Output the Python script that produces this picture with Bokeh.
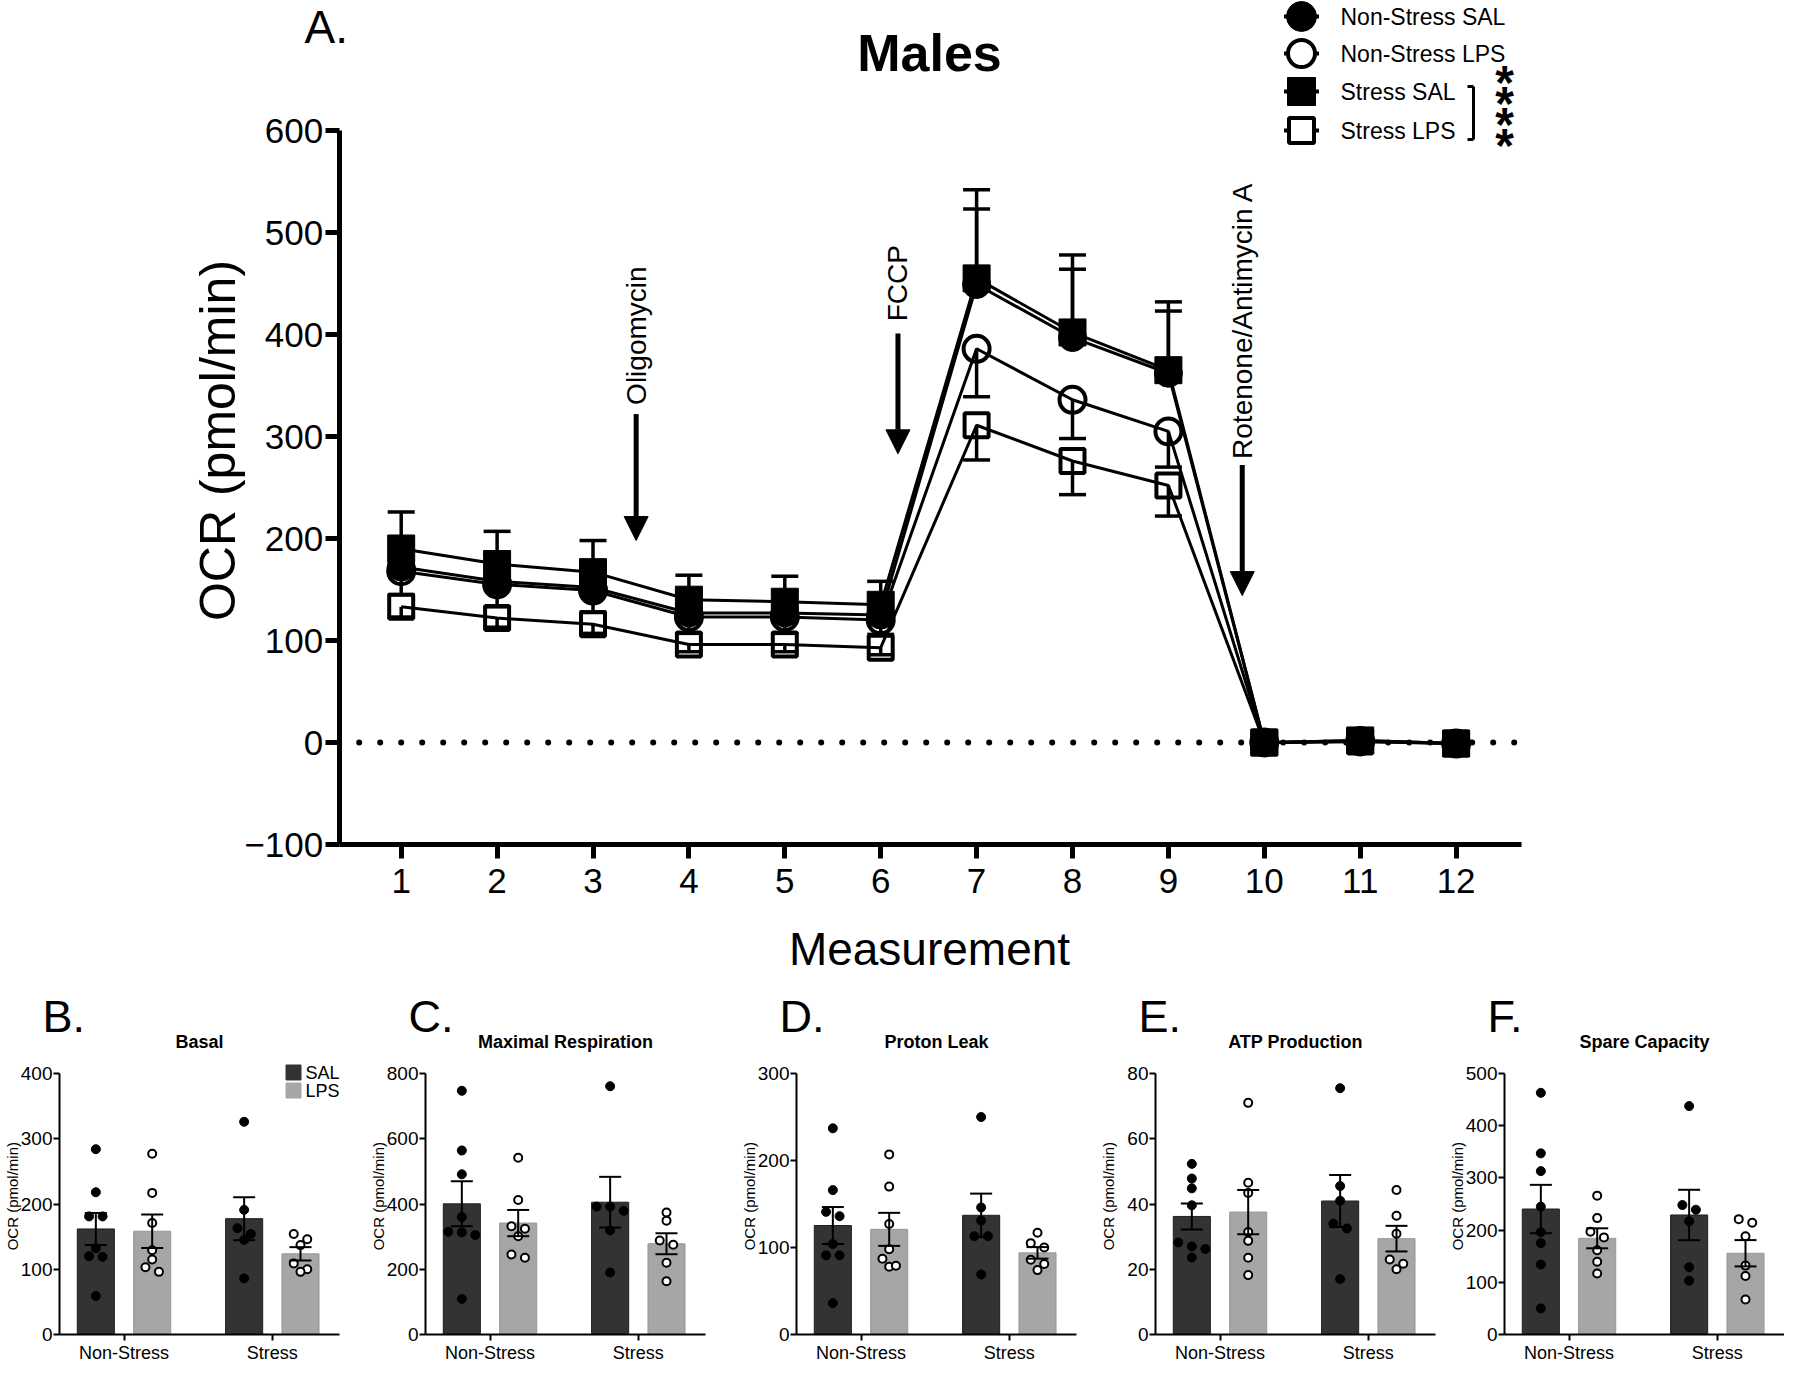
import math
from bokeh.plotting import figure
from bokeh.models import Range1d, FixedTicker, Label, Arrow, NormalHead
from bokeh.layouts import column, row
from bokeh.embed import file_html
from bokeh.resources import INLINE

FONT = "Liberation Sans"

# ------------------------------------------------------------------ data (A)
measurements = [1, 2, 3, 4, 5, 6, 7, 8, 9, 10, 11, 12]
ns_sal_mean = [172, 158, 152, 127, 127, 125, 449, 397, 362, 0, 2, -1]
ns_sal_sem = [30, 27, 26, 20, 20, 19, 74, 67, 61, 2, 2, 2]
ns_lps_mean = [168, 155, 149, 123, 123, 120, 386, 336, 305, 0, 1, -1]
ns_lps_sem = [23, 22, 21, 16, 16, 14, 47, 38, 35, 2, 2, 2]
s_sal_mean = [190, 175, 167, 140, 138, 135, 455, 402, 365, 0, 2, -1]
s_sal_sem = [36, 32, 31, 24, 25, 23, 87, 76, 67, 2, 2, 2]
s_lps_mean = [133, 122, 116, 96, 96, 93, 311, 276, 252, 0, 1, -1]
s_lps_sem = [10, 9, 9, 7, 7, 7, 34, 33, 30, 2, 2, 2]
series_names = ["Non-Stress SAL", "Non-Stress LPS", "Stress SAL", "Stress LPS"]

drug_names = ["Oligomycin", "FCCP", "Rotenone/Antimycin A"]
drug_x = [3.45, 6.18, 9.77]
drug_arrow_top = [322, 401, 272]
drug_arrow_tip = [198, 283, 144]
drug_text_start = [331, 413, 278]

y_ticks_a = [-100, 0, 100, 200, 300, 400, 500, 600]

# ------------------------------------------------------------------ data (B-F)
groups = ["Non-Stress", "Stress"]
treatments = ["SAL", "LPS"]
panel_letters = ["B.", "C.", "D.", "E.", "F."]
panel_titles = ["Basal", "Maximal Respiration", "Proton Leak", "ATP Production", "Spare Capacity"]
panel_ymax = [400, 800, 300, 80, 500]
panel_ystep = [100, 200, 100, 20, 100]

basal_ns_sal = [284, 218, 181, 181, 132, 120, 119, 59]
basal_ns_lps = [277, 217, 171, 129, 115, 103, 96]
basal_s_sal = [326, 191, 163, 154, 145, 86]
basal_s_lps = [154, 146, 137, 109, 100, 96]

maxresp_ns_sal = [747, 564, 491, 360, 315, 305, 313, 109]
maxresp_ns_lps = [542, 412, 332, 324, 301, 235, 245]
maxresp_s_sal = [761, 392, 392, 379, 319, 190]
maxresp_s_lps = [374, 349, 288, 275, 220, 163]

leak_ns_sal = [237, 166, 141, 136, 104, 91, 91, 36]
leak_ns_lps = [207, 170, 127, 98, 87, 78, 79]
leak_s_sal = [250, 146, 131, 113, 113, 69]
leak_s_lps = [117, 105, 100, 86, 81, 74]

atp_ns_sal = [52.3, 47.8, 44.8, 39.6, 28.2, 27.0, 26.2, 23.6]
atp_ns_lps = [71.0, 46.5, 43.4, 31.4, 28.7, 23.5, 18.2]
atp_s_sal = [75.5, 45.5, 41.0, 34.0, 32.5, 17.0]
atp_s_lps = [44.3, 36.4, 30.9, 23.0, 21.7, 20.0]

spare_ns_sal = [463, 347, 313, 245, 196, 175, 134, 50]
spare_ns_lps = [266, 223, 197, 186, 161.5, 139.5, 117]
spare_s_sal = [437.6, 248, 239, 217, 129, 103]
spare_s_lps = [221, 214, 188, 132, 112, 67]

panel_data = [
    [basal_ns_sal, basal_ns_lps, basal_s_sal, basal_s_lps],
    [maxresp_ns_sal, maxresp_ns_lps, maxresp_s_sal, maxresp_s_lps],
    [leak_ns_sal, leak_ns_lps, leak_s_sal, leak_s_lps],
    [atp_ns_sal, atp_ns_lps, atp_s_sal, atp_s_lps],
    [spare_ns_sal, spare_ns_lps, spare_s_sal, spare_s_lps],
]

# ------------------------------------------------------------------ layout constants (page px)
PAGE_W = 1784
H_MAIN = 980
H_PANEL = 384
DARK = "#333333"
LIGHT = "#a6a6a6"

# main chart: whole figure is the frame; axes are fixed inside it
M1_PX = 400.7          # page x of measurement 1
PX = 95.9              # px per measurement
ZERO_PY = 742.0        # page y of OCR 0
PY = 1.02              # px per OCR unit
AX_LEFT_PX, AX_RIGHT_PX = 338.7, 1521.0


def xv(px):
    return 1 + (px - M1_PX) / PX


def yv(py):
    return (ZERO_PY - py) / PY


X_AX0, X_AX1 = xv(AX_LEFT_PX), xv(AX_RIGHT_PX)
Y_AX0, Y_AX1 = -100, 600

p = figure(width=PAGE_W, height=H_MAIN, x_range=Range1d(xv(0), xv(PAGE_W)),
           y_range=Range1d(yv(H_MAIN), yv(0)), output_backend="svg", toolbar_location=None,
           min_border_left=0, min_border_right=0, min_border_top=0, min_border_bottom=0)
p.outline_line_color = None
p.xgrid.visible = False
p.ygrid.visible = False
p.background_fill_color = "white"
p.border_fill_color = "white"

for ax in (p.xaxis[0], p.yaxis[0]):
    ax.axis_line_width = 5
    ax.axis_line_color = "black"
    ax.major_tick_line_width = 5
    ax.major_tick_line_color = "black"
    ax.major_tick_out = 14
    ax.major_tick_in = 0
    ax.minor_tick_line_color = None
    ax.major_label_text_font = FONT
    ax.major_label_text_font_size = "35px"
    ax.major_label_text_color = "black"

p.yaxis.fixed_location = X_AX0
p.yaxis.bounds = (Y_AX0, Y_AX1)
p.yaxis.ticker = FixedTicker(ticks=y_ticks_a)
p.yaxis.major_label_standoff = 2
p.xaxis.fixed_location = Y_AX0
p.xaxis.bounds = (X_AX0, X_AX1)
p.xaxis.ticker = FixedTicker(ticks=measurements)
p.xaxis.major_label_standoff = 10

# dotted zero line across the axis span
p.line(x=[X_AX0 + 20 / PX, X_AX1], y=[0, 0], line_color="black", line_width=6,
       line_dash="0 21", line_cap="round")

means = [ns_sal_mean, ns_lps_mean, s_sal_mean, s_lps_mean]
sems = [ns_sal_sem, ns_lps_sem, s_sal_sem, s_lps_sem]
markers = ["circle", "circle", "square", "square"]
filled = [True, False, True, False]
CAP = 13.5 / PX

# error bars (up for SAL, down for LPS)
for mean, sem, fill in zip(means, sems, filled):
    if fill:
        lo = list(mean)
        hi = [m + s for m, s in zip(mean, sem)]
        cap = hi
    else:
        lo = [m - s for m, s in zip(mean, sem)]
        hi = list(mean)
        cap = lo
    p.segment(x0=measurements, y0=lo, x1=measurements, y1=hi, line_color="black", line_width=3.5)
    p.segment(x0=[m - CAP for m in measurements], y0=cap,
              x1=[m + CAP for m in measurements], y1=cap, line_color="black", line_width=3.5)

for mean, mk, fill in zip(means, markers, filled):
    if fill:
        p.scatter(measurements, mean, marker=mk, size=28 if mk == "circle" else 27,
                  fill_color="black", line_color="black", line_width=1)
    p.line(measurements, mean, line_color="black", line_width=3)
    if not fill:
        p.scatter(measurements, mean, marker=mk, size=26 if mk == "circle" else 24,
                  fill_alpha=0, line_color="black", line_width=4)

# drug arrows + labels
for name, dx, top, tip, ts in zip(drug_names, drug_x, drug_arrow_top, drug_arrow_tip, drug_text_start):
    p.add_layout(Arrow(x_start=dx, y_start=top, x_end=dx, y_end=tip, line_width=5,
                       line_color="black",
                       end=NormalHead(size=24, fill_color="black", line_color="black", line_width=1)))
    p.add_layout(Label(x=dx, y=ts, text=name, angle=math.pi / 2, text_align="left",
                       text_baseline="middle", text_font=FONT, text_font_size="28px",
                       text_color="black"))

# axis titles, chart title, panel letter
p.add_layout(Label(x=xv(217), y=yv(440), text="OCR (pmol/min)", angle=math.pi / 2,
                   text_align="center", text_baseline="middle", text_font=FONT,
                   text_font_size="50px", text_color="black"))
p.add_layout(Label(x=xv(929), y=yv(948), text="Measurement", text_align="center",
                   text_baseline="middle", text_font=FONT, text_font_size="46px",
                   text_color="black"))
p.add_layout(Label(x=xv(929), y=yv(52), text="Males", text_align="center",
                   text_baseline="middle", text_font=FONT, text_font_size="52px",
                   text_font_style="bold", text_color="black"))
p.add_layout(Label(x=xv(304), y=yv(26), text="A.", text_align="left",
                   text_baseline="middle", text_font=FONT, text_font_size="46px",
                   text_color="black"))

# legend (top right)
LEG_ROWS = [16, 53, 91, 130]
LEG_MX = xv(1301)
LEG_HALF = 17.5 / PX
for name, mk, fill, ry in zip(series_names, markers, filled, LEG_ROWS):
    y = yv(ry)
    p.segment(x0=[LEG_MX - LEG_HALF], y0=[y], x1=[LEG_MX + LEG_HALF], y1=[y],
              line_color="black", line_width=4)
    if fill:
        p.scatter([LEG_MX], [y], marker=mk, size=30 if mk == "circle" else 28,
                  fill_color="black", line_color="black", line_width=1)
    else:
        p.scatter([LEG_MX], [y], marker=mk, size=27 if mk == "circle" else 25,
                  fill_color="white", line_color="black", line_width=4)
    p.add_layout(Label(x=xv(1340), y=y, text=name, text_align="left", text_baseline="middle",
                       text_font=FONT, text_font_size="23px", text_color="black"))

# significance bracket + asterisks
BX = xv(1473)
bt, bb = yv(86), yv(139)
p.segment(x0=[BX, BX - 6 / PX, BX - 6 / PX], y0=[bt, bt, bb],
          x1=[BX, BX, BX], y1=[bb, bt, bb], line_color="black", line_width=3)
for ay in [81, 102, 123, 144]:
    p.add_layout(Label(x=xv(1504), y=yv(ay), text="*", text_align="center",
                       text_baseline="middle", text_font=FONT, text_font_size="48px",
                       text_font_style="bold", text_color="black", y_offset=-1))

# ------------------------------------------------------------------ panels
P_XS, P_XE = 0.565, 2.453          # axis span in category units
P_AXIS_W = 280
P_PX = P_AXIS_W / (P_XE - P_XS)
fig_starts = [0, 362, 732, 1092, 1440]
fig_widths = [fig_starts[i + 1] - fig_starts[i] for i in range(4)] + [PAGE_W - fig_starts[4]]
axis_px = [59, 425, 796, 1155, 1504]
P_TOP = 1073 - H_MAIN       # fig-relative y of ymax
P_BOT = 1334 - H_MAIN       # fig-relative y of 0
OFF = 0.19
BAR_W = 0.25


def mean_sem(vals):
    n = len(vals)
    m = sum(vals) / n
    sd = math.sqrt(sum((v - m) ** 2 for v in vals) / (n - 1))
    return m, sd / math.sqrt(n)


def swarm(vals, center, py, px, d=7.5, s=13.5):
    order = sorted(range(len(vals)), key=lambda i: -vals[i])
    rows = []
    for i in order:
        if rows and abs(vals[rows[-1][0]] - vals[i]) * py < d:
            rows[-1].append(i)
        else:
            rows.append([i])
    xs = [center] * len(vals)
    for r in rows:
        k = len(r)
        for j, i in enumerate(r):
            xs[i] = center + (j - (k - 1) / 2) * s / px
    return xs


panels = []
for k in range(5):
    ymax = panel_ymax[k]
    py = (P_BOT - P_TOP) / ymax
    rel_ax = axis_px[k] - fig_starts[k]
    xr0 = P_XS - rel_ax / P_PX
    xr1 = xr0 + fig_widths[k] / P_PX
    yr0 = -(H_PANEL - P_BOT) / py
    yr1 = ymax + P_TOP / py

    def fx(px_rel, xr0=xr0):
        return xr0 + px_rel / P_PX

    def fy(py_rel, yr1=yr1, py=py):
        return yr1 - py_rel / py

    f = figure(width=fig_widths[k], height=H_PANEL, x_range=Range1d(xr0, xr1),
               y_range=Range1d(yr0, yr1), output_backend="svg", toolbar_location=None,
               min_border_left=0, min_border_right=0, min_border_top=0, min_border_bottom=0)
    f.outline_line_color = None
    f.xgrid.visible = False
    f.ygrid.visible = False
    for ax in (f.xaxis[0], f.yaxis[0]):
        ax.axis_line_width = 2
        ax.axis_line_color = "black"
        ax.major_tick_line_width = 2
        ax.major_tick_line_color = "black"
        ax.major_tick_out = 6
        ax.major_tick_in = 0
        ax.minor_tick_line_color = None
        ax.major_label_text_font = FONT
        ax.major_label_text_font_size = "19px"
        ax.major_label_text_color = "black"
    f.yaxis.fixed_location = P_XS
    f.yaxis.bounds = (0, ymax)
    f.yaxis.ticker = FixedTicker(ticks=list(range(0, ymax + 1, panel_ystep[k])))
    f.yaxis.major_label_standoff = 1
    f.xaxis.fixed_location = 0
    f.xaxis.bounds = (P_XS, P_XE)
    f.xaxis.ticker = FixedTicker(ticks=[1, 2])
    f.xaxis.major_label_overrides = {1: groups[0], 2: groups[1]}
    f.xaxis.major_label_standoff = 2
    f.xaxis.major_label_text_font_size = "18px"

    sets = panel_data[k]
    xs_c = [1 - OFF, 1 + OFF, 2 - OFF, 2 + OFF]
    stats = [mean_sem(v) for v in sets]
    sal_idx, lps_idx = [0, 2], [1, 3]
    f.vbar(x=[xs_c[i] for i in sal_idx], top=[stats[i][0] for i in sal_idx], width=BAR_W,
           fill_color=DARK, line_color="#1e1e1e", line_width=1)
    f.vbar(x=[xs_c[i] for i in lps_idx], top=[stats[i][0] for i in lps_idx], width=BAR_W,
           fill_color=LIGHT, line_color="#989898", line_width=1)
    for i, vals in enumerate(sets):
        dx = swarm(vals, xs_c[i], py, P_PX)
        if i in sal_idx:
            f.scatter(dx, vals, marker="circle", size=9, fill_color="black", line_color="black")
        else:
            f.scatter(dx, vals, marker="circle", size=8, fill_color="white", line_color="black",
                      line_width=2)
    capw = 11 / P_PX
    lo = [m - s for m, s in stats]
    hi = [m + s for m, s in stats]
    f.segment(x0=xs_c, y0=lo, x1=xs_c, y1=hi, line_color="black", line_width=2)
    f.segment(x0=[x - capw for x in xs_c], y0=lo, x1=[x + capw for x in xs_c], y1=lo,
              line_color="black", line_width=2)
    f.segment(x0=[x - capw for x in xs_c], y0=hi, x1=[x + capw for x in xs_c], y1=hi,
              line_color="black", line_width=2)

    f.add_layout(Label(x=(P_XS + P_XE) / 2, y=fy(P_TOP - 32), text=panel_titles[k],
                       text_align="center", text_baseline="middle", text_font=FONT,
                       text_font_size="18px", text_font_style="bold", text_color="black"))
    f.add_layout(Label(x=fx(rel_ax - 17), y=fy(P_TOP - 57), text=panel_letters[k],
                       text_align="left", text_baseline="middle", text_font=FONT,
                       text_font_size="45px", text_color="black"))
    f.add_layout(Label(x=fx(rel_ax - 47), y=0.53 * ymax, text="OCR (pmol/min)",
                       angle=math.pi / 2, text_align="center", text_baseline="middle",
                       text_font=FONT, text_font_size="15px", text_color="black"))
    if k == 0:
        leg_cols = [DARK, LIGHT]
        for j, (lab, col) in enumerate(zip(treatments, leg_cols)):
            ly = fy(P_TOP - 1 + 18 * j)
            f.scatter([fx(rel_ax + 234)], [ly], marker="square", size=15, fill_color=col,
                      line_color=col)
            f.add_layout(Label(x=fx(rel_ax + 246), y=ly, text=lab, text_align="left",
                               text_baseline="middle", text_font=FONT, text_font_size="18px",
                               text_color="black"))
    panels.append(f)

layout = column(p, row(*panels, spacing=0), spacing=0)
open("out.html", "w").write(file_html(layout, INLINE))
